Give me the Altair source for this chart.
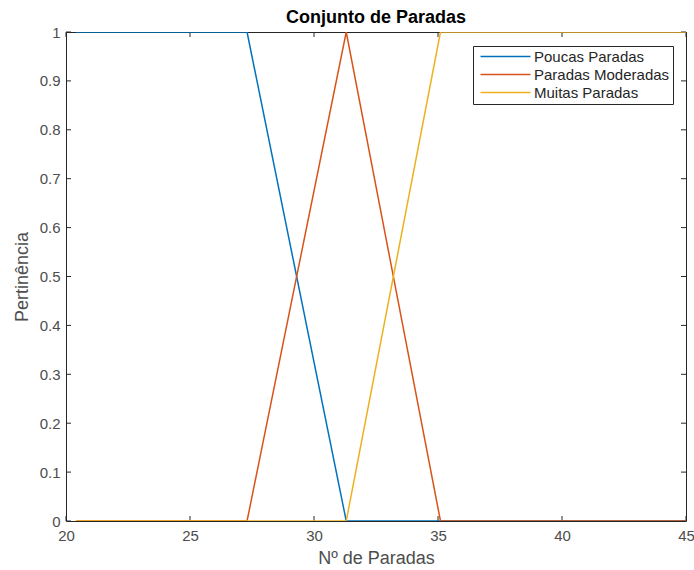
import altair as alt
import pandas as pd

# Membership function breakpoints for each fuzzy set
series_names = ["Poucas Paradas", "Paradas Moderadas", "Muitas Paradas"]
poucas_x = [20.4, 27.3, 31.3, 45.0]
poucas_y = [1, 1, 0, 0]
moderadas_x = [20.4, 27.3, 31.3, 35.1, 45.0]
moderadas_y = [0, 0, 1, 0, 0]
muitas_x = [20.4, 31.3, 35.1, 45.0]
muitas_y = [0, 0, 1, 1]
colors = ["#0072BD", "#D95319", "#EDB120"]

x_ticks = [20, 25, 30, 35, 40, 45]
y_ticks = [round(i * 0.1, 1) for i in range(11)]

rows = []
for order, (name, xs, ys) in enumerate(zip(series_names,
                                           [poucas_x, moderadas_x, muitas_x],
                                           [poucas_y, moderadas_y, muitas_y])):
    for i, (xv, yv) in enumerate(zip(xs, ys)):
        rows.append({"serie": name, "x": xv, "y": yv, "ordem": order, "i": i})
df = pd.DataFrame(rows)

W, H = 620, 489
FONT = "Liberation Sans"
TXT = "#262626"

x_scale = alt.Scale(domain=[20, 45], nice=False, zero=False)
y_scale = alt.Scale(domain=[0, 1], nice=False, zero=False)

lines = alt.Chart(df).mark_line(strokeWidth=1.5, clip=True).encode(
    x=alt.X("x:Q", scale=x_scale,
            axis=alt.Axis(values=x_ticks, title="Nº de Paradas", grid=False,
                          ticks=False, domain=False, labelPadding=7,
                          labelFlush=False, titlePadding=6)),
    y=alt.Y("y:Q", scale=y_scale,
            axis=alt.Axis(values=y_ticks, format="~g", title="Pertinência",
                          grid=False, ticks=False, domain=False,
                          labelFlush=False, labelPadding=6, titlePadding=8)),
    color=alt.Color("serie:N",
                    scale=alt.Scale(domain=series_names, range=colors),
                    sort=series_names,
                    legend=alt.Legend(title=None, orient="none",
                                      legendX=407, legendY=14,
                                      symbolType="M-5,0H5", symbolSize=100,
                                      symbolStrokeWidth=1.5,
                                      symbolOffset=22,
                                      labelFont=FONT, labelFontSize=15,
                                      labelColor=TXT, labelOffset=21,
                                      rowPadding=2, padding=3,
                                      strokeColor="#262626", fillColor="white",
                                      cornerRadius=0)),
    detail="serie:N",
    order="i:Q",
)

xt_df = pd.DataFrame({"t": x_ticks})
yt_df = pd.DataFrame({"t": y_ticks})
tick_len = 5
tick_style = dict(color="#262626", strokeWidth=1)

x_bottom = alt.Chart(xt_df).mark_rule(**tick_style).encode(
    x=alt.X("t:Q", scale=x_scale), y=alt.value(H), y2=alt.value(H - tick_len))
x_top = alt.Chart(xt_df).mark_rule(**tick_style).encode(
    x=alt.X("t:Q", scale=x_scale), y=alt.value(0), y2=alt.value(tick_len))
y_left = alt.Chart(yt_df).mark_rule(**tick_style).encode(
    y=alt.Y("t:Q", scale=y_scale), x=alt.value(0), x2=alt.value(tick_len))
y_right = alt.Chart(yt_df).mark_rule(**tick_style).encode(
    y=alt.Y("t:Q", scale=y_scale), x=alt.value(W), x2=alt.value(W - tick_len))

chart = alt.layer(x_bottom, x_top, y_left, y_right, lines).properties(
    width=W, height=H,
    background="white",
    title=alt.Title("Conjunto de Paradas", font=FONT, fontSize=18,
                    fontWeight="bold", color="black", offset=-2, anchor="middle"),
    autosize=alt.AutoSizeParams(type="none"),
    padding={"left": 66, "top": 32, "right": 8, "bottom": 49},
).configure_view(
    stroke="#262626", strokeWidth=1
).configure_axis(
    labelFont=FONT, labelFontSize=15, labelColor="#4d4d4d",
    titleFont=FONT, titleFontSize=18, titleColor="#4d4d4d",
    titleFontWeight="normal",
)

chart.save("out.html", embed_options={"renderer": "svg", "actions": False})
